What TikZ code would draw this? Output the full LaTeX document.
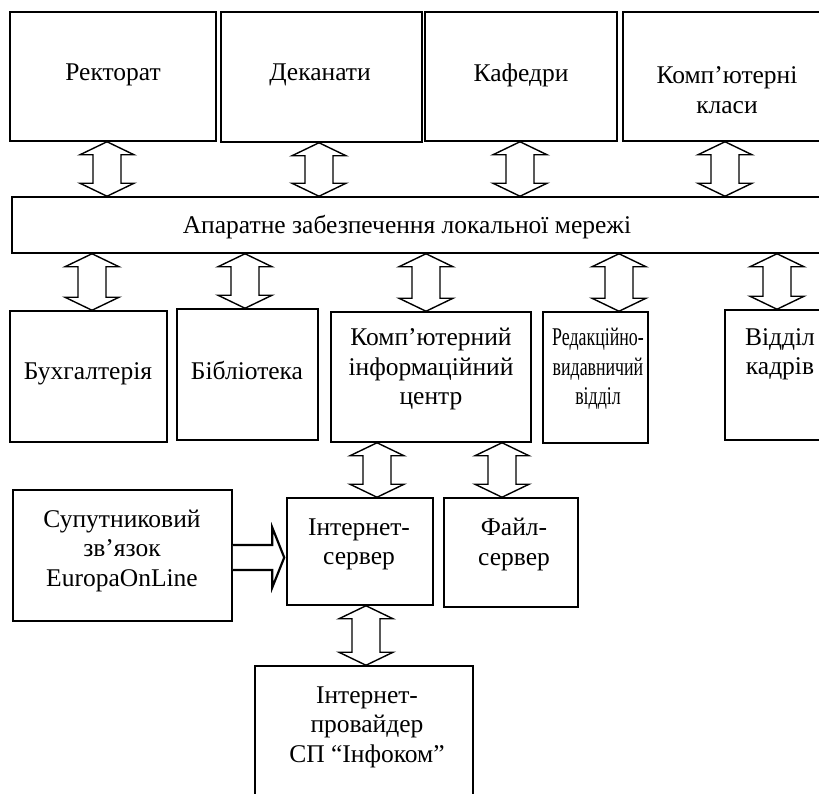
\documentclass[tikz,border=0pt]{standalone}
\usepackage{fontspec}
\setmainfont{Liberation Serif}
\newfontfamily\narrowserif{Liberation Serif}[FakeStretch=0.7]
\usetikzlibrary{calc}

% hollow double arrow between two stacked boxes, at a given x
\newcommand\vlink[3]{%
  \draw[linkarrow] let \p1=(#1.south -| #3,0), \p2=(#2.north -| #3,0) in
    (\x1,\y1) -- (\x1+27pt,\y1-13pt) -- (\x1+14pt,\y1-13pt) -- (\x1+14pt,\y2+13pt)
    -- (\x1+27pt,\y2+13pt) -- (\x1,\y2) -- (\x1-27pt,\y2+13pt) -- (\x1-14pt,\y2+13pt)
    -- (\x1-14pt,\y1-13pt) -- (\x1-27pt,\y1-13pt) -- cycle;}

\begin{document}
\begin{tikzpicture}[
    x=1pt, y=-1pt,
    unitbox/.style={
        rectangle,
        draw=black,
        line width=1.5pt,
        inner sep=0pt
    },
    lbl/.style={
        align=center,
        inner sep=0pt,
        yshift=-2pt,
        font=\fontsize{25.5}{29.5}\selectfont
    },
    linkarrow/.style={
        draw=black,
        fill=white,
        line width=1.4pt,
        line join=miter
    }
]
\useasboundingbox (0,0) rectangle (819,794);
\clip (0,0) rectangle (819,794);
\fill[white] (0,0) rectangle (819,794);

% top row
\node[unitbox, minimum width=206, minimum height=129] (rect) at (113,76.5) {};
\node[unitbox, minimum width=201, minimum height=130] (dean) at (321.5,77) {};
\node[unitbox, minimum width=192, minimum height=129] (dept) at (521,76.5) {};
\node[unitbox, minimum width=207, minimum height=129] (lab) at (726.5,76.5) {};
\node[lbl] (rect-t) at (113,73) {Ректорат};
\node[lbl] (dean-t) at (320,73) {Деканати};
\node[lbl] (dept-t) at (521,73) {Кафедри};
\node[lbl] (lab-t) at (727,88) {Комп’ютерні\\класи};

% local network
\node[unitbox, minimum width=818, minimum height=56] (bus) at (421,225) {};
\node[lbl] (bus-t) at (407,225) {Апаратне забезпечення локальної мережі};

% middle row
\node[unitbox, minimum width=157, minimum height=131] (acc) at (88.5,376.5) {};
\node[unitbox, minimum width=141, minimum height=131] (lib) at (247.5,374.5) {};
\node[unitbox, minimum width=200, minimum height=130] (kic) at (431,377) {};
\node[unitbox, minimum width=105, minimum height=131] (pub) at (595.5,377.5) {};
\node[unitbox, minimum width=110, minimum height=130] (hr) at (780,375) {};
\node[lbl] (acc-t) at (88,372) {Бухгалтерія};
\node[lbl] (lib-t) at (247,368) {Бібліотека};
\node[lbl] (kic-t) at (431,367) {Комп’ютерний\\інформаційний\\центр};
\node[lbl, font=\narrowserif\fontsize{25.5}{29.5}\selectfont] (pub-t) at (598,367) {Редакційно-\\видавничий\\відділ};
\node[lbl] (hr-t) at (780,352.5) {Відділ\\кадрів};

% servers
\node[unitbox, minimum width=219, minimum height=131] (sat) at (122.5,555.5) {};
\node[unitbox, minimum width=146, minimum height=107] (inet) at (360,551.5) {};
\node[unitbox, minimum width=134, minimum height=109] (file) at (511,552.5) {};
\node[unitbox, minimum width=218, minimum height=144] (isp) at (364,738) {};
\node[lbl] (sat-t) at (122,548.5) {Супутниковий\\зв’язок\\EuropaOnLine};
\node[lbl] (inet-t) at (359,542.5) {Інтернет-\\сервер};
\node[lbl] (file-t) at (514,542.5) {Файл-\\сервер};
\node[lbl] (isp-t) at (367,725) {Інтернет-\\провайдер\\СП “Інфоком”};

% links
\vlink{rect}{bus}{107}
\vlink{dean}{bus}{319}
\vlink{dept}{bus}{520}
\vlink{lab}{bus}{725}
\vlink{bus}{acc}{92}
\vlink{bus}{lib}{245}
\vlink{bus}{kic}{426}
\vlink{bus}{pub}{619}
\vlink{bus}{hr}{777}
\vlink{kic}{inet}{377}
\vlink{kic}{file}{502}
\vlink{inet}{isp}{366}

% satellite feed
\draw[linkarrow, line width=2.2pt] let \p1=(sat.east |- 0,557.5), \p2=(inet.west) in
    (\x1,\y1+12.5pt) -- (\x2-14pt,\y1+12.5pt) -- (\x2-14pt,\y1+30pt) -- (\x2-2pt,\y1)
    -- (\x2-14pt,\y1-30pt) -- (\x2-14pt,\y1-12.5pt) -- (\x1,\y1-12.5pt);

\end{tikzpicture}
\end{document}
